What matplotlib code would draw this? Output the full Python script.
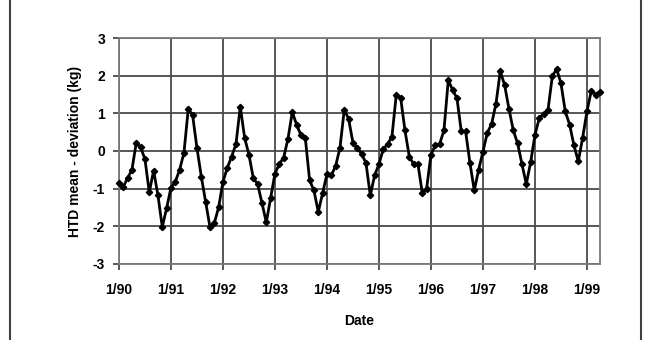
import matplotlib
matplotlib.use("Agg")
import matplotlib.pyplot as plt
from matplotlib.lines import Line2D
import numpy as np

# monthly HTD mean deviation (kg), Jan 1990 .. Apr 1999
htd_1990 = [-0.85, -0.95, -0.72, -0.5, 0.22, 0.1, -0.22, -1.1, -0.52, -1.18, -2.02, -1.52]
htd_1991 = [-0.98, -0.82, -0.5, -0.05, 1.12, 0.95, 0.08, -0.68, -1.35, -2.02, -1.92, -1.5]
htd_1992 = [-0.82, -0.45, -0.15, 0.18, 1.18, 0.35, -0.1, -0.72, -0.88, -1.38, -1.9, -1.25]
htd_1993 = [-0.6, -0.35, -0.18, 0.32, 1.03, 0.7, 0.42, 0.35, -0.78, -1.05, -1.62, -1.12]
htd_1994 = [-0.62, -0.65, -0.4, 0.08, 1.1, 0.85, 0.22, 0.08, -0.08, -0.32, -1.18, -0.65]
htd_1995 = [-0.35, 0.05, 0.18, 0.38, 1.5, 1.42, 0.55, -0.15, -0.35, -0.35, -1.12, -1.0]
htd_1996 = [-0.1, 0.15, 0.18, 0.55, 1.88, 1.62, 1.4, 0.52, 0.52, -0.32, -1.05, -0.5]
htd_1997 = [-0.02, 0.48, 0.72, 1.25, 2.12, 1.75, 1.12, 0.55, 0.2, -0.35, -0.88, -0.3]
htd_1998 = [0.42, 0.88, 0.98, 1.08, 1.98, 2.18, 1.8, 1.05, 0.7, 0.15, -0.28, 0.35]
htd_1999 = [1.05, 1.6, 1.5, 1.58]

year_labels = ["1/90", "1/91", "1/92", "1/93", "1/94", "1/95", "1/96", "1/97", "1/98", "1/99"]
y_ticks = [-3, -2, -1, 0, 1, 2, 3]

values = np.array(htd_1990 + htd_1991 + htd_1992 + htd_1993 + htd_1994
                  + htd_1995 + htd_1996 + htd_1997 + htd_1998 + htd_1999)
months = np.arange(len(values))

plt.rcParams["font.family"] = ["Liberation Sans", "DejaVu Sans"]
plt.rcParams["axes.unicode_minus"] = False

fig = plt.figure(figsize=(6.5, 3.4), dpi=100)
ax = fig.add_axes([0.183, 0.224, 0.740, 0.664])

grid_color = "#4a4a4a"
ax.set_xticks(np.arange(len(year_labels)) * 12)
ax.set_xticklabels(year_labels)
ax.set_yticks(y_ticks)
ax.set_xlim(0, len(values) - 1)
ax.set_ylim(-3, 3)
ax.grid(True, color=grid_color, linewidth=1.3)
ax.set_axisbelow(True)

ax.plot(months, values, color="black", linewidth=2.0, marker="D", markersize=3.2,
        markerfacecolor="black", markeredgecolor="black", clip_on=False, zorder=3)

for spine in ax.spines.values():
    spine.set_color("#7a7a7a")
    spine.set_linewidth(1.3)

ax.tick_params(axis="both", direction="out", length=4, width=1.3, color=grid_color,
               labelsize=10)
ax.tick_params(axis="x", pad=10)
ax.tick_params(axis="y", pad=6)
for lbl in ax.get_xticklabels() + ax.get_yticklabels():
    lbl.set_fontweight("bold")

ax.set_xlabel("Date", fontsize=10, fontweight="bold", labelpad=12)
ax.set_ylabel("HTD mean - deviation (kg)", fontsize=10, fontweight="bold", labelpad=8)

# outer frame (only side edges visible in the crop)
for xf in (9.5 / 650, 640.5 / 650):
    fig.add_artist(Line2D([xf, xf], [0, 1], transform=fig.transFigure,
                          color="#404040", linewidth=1.5))

fig.savefig("out.png", dpi=100)
